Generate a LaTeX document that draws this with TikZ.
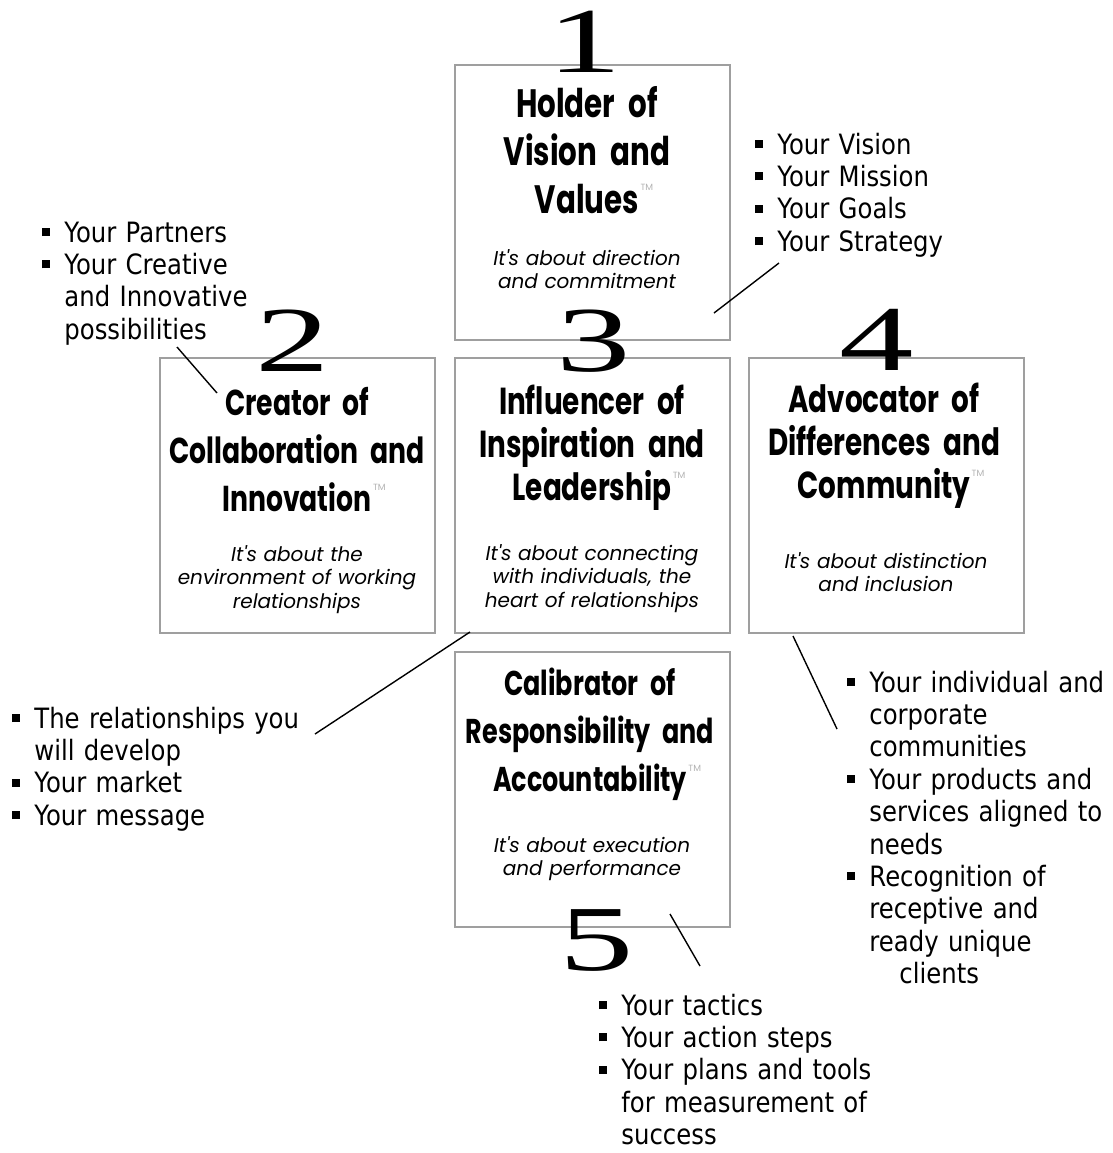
\documentclass[tikz,border=0pt]{standalone}
\usepackage{fontspec}
\newfontfamily\listfont[FakeStretch=0.87]{DejaVu Sans}
\newfontfamily\headfont[FakeStretch=0.74]{Poppins}
\newfontfamily\notefont{Poppins}
\newfontfamily\digitfont[FakeStretch=1.6]{Liberation Serif}

\newcommand{\itm}{\makebox[11pt][l]{\rule[3pt]{4pt}{4pt}}}
\newcommand{\cnt}{\hspace*{11pt}}
\newcommand{\tm}{\rlap{\raisebox{1.02ex}{\notefont\mdseries\fontsize{4.5pt}{4.5pt}\selectfont\color{gray!60}\,TM}}}

\tikzset{
  boxframe/.style={draw=gray!75, line width=1pt, minimum width=137.5pt, minimum height=137.5pt, inner sep=0pt},
  headtext/.style 2 args={font=\headfont\bfseries\fontsize{#1}{#2}\selectfont, text width=140pt, align=center, anchor=base, inner sep=0pt},
  notetext/.style={font=\notefont\itshape\fontsize{10pt}{11.8pt}\selectfont, text width=140pt, align=center, anchor=base, inner sep=0pt},
  digitmark/.style={font=\digitfont\fontsize{46.5pt}{46.5pt}\selectfont, anchor=base, inner sep=0pt},
  pointlist/.style={font=\listfont\fontsize{14pt}{16.2pt}\selectfont, text width=150pt, align=left, anchor=base west, inner sep=0pt},
  leaderline/.style={line width=0.7pt}
}

\begin{document}
\begin{tikzpicture}[x=0.5pt, y=-0.5pt]
  \useasboundingbox (0,0) rectangle (1113,1153);

  \node[boxframe] (b1) at (592.5,202.5) {};
  \node[boxframe] (b2) at (297,495)     {};
  \node[boxframe] (b3) at (592.5,495)   {};
  \node[boxframe] (b4) at (886,495)     {};
  \node[boxframe] (b5) at (592.5,789.5) {};

  \node[digitmark] (d1) at (585,72)  {1};
  \node[digitmark] (d2) at (293,371) {2};
  \node[digitmark] (d3) at (594,371) {3};
  \node[digitmark] (d4) at (877,370) {4};
  \node[digitmark] (d5) at (597,970) {5};

  \node[headtext={19.8pt}{24pt}]   (h1) at (587,117) {Holder of\\Vision and\\Values\tm};
  \node[headtext={18pt}{24pt}]     (h2) at (297,415) {Creator of\\Collaboration and\\Innovation\tm};
  \node[headtext={18.8pt}{21.5pt}] (h3) at (592,414) {Influencer of\\Inspiration and\\Leadership\tm};
  \node[headtext={18.8pt}{21.5pt}] (h4) at (884,412) {Advocator of\\Differences and\\Community\tm};
  \node[headtext={17.2pt}{24pt}]   (h5) at (590,695) {Calibrator of\\Responsibility and\\Accountability\tm};

  \node[notetext] (n1) at (587,265) {It's about direction\\and commitment};
  \node[notetext] (n2) at (297,561) {It's about the\\environment of working\\relationships};
  \node[notetext] (n3) at (592,560) {It's about connecting\\with individuals, the\\heart of relationships};
  \node[notetext] (n4) at (886,568) {It's about distinction\\and inclusion};
  \node[notetext] (n5) at (592,852) {It's about execution\\and performance};

  \node[pointlist] (vision) at (755,154) {\itm Your Vision\\\itm Your Mission\\\itm Your Goals\\\itm Your Strategy};
  \node[pointlist] (partners) at (42,242) {\itm Your Partners\\\itm Your Creative\\\cnt and Innovative\\\cnt possibilities};
  \node[pointlist] (relations) at (12,728) {\itm The relationships you\\\cnt will develop\\\itm Your market\\\itm Your message};
  \node[pointlist] (community) at (847,692) {\itm Your individual and\\\cnt corporate\\\cnt communities\\\itm Your products and\\\cnt services aligned to\\\cnt needs\\\itm Recognition of\\\cnt receptive and\\\cnt ready unique\\\cnt\hspace*{15pt}clients};
  \node[pointlist] (tactics) at (599,1015) {\itm Your tactics\\\itm Your action steps\\\itm Your plans and tools\\\cnt for measurement of\\\cnt success};

  \coordinate (s1) at (714,313); \coordinate (e1) at (779,263);
  \coordinate (s2) at (217,393); \coordinate (e2) at (177,347);
  \coordinate (s3) at (470,632); \coordinate (e3) at (315,734);
  \coordinate (s4) at (793,636); \coordinate (e4) at (837,729);
  \coordinate (s5) at (670,914); \coordinate (e5) at (700,966);

  \draw[leaderline] (s1) -- (e1);
  \draw[leaderline] (s2) -- (e2);
  \draw[leaderline] (s3) -- (e3);
  \draw[leaderline] (s4) -- (e4);
  \draw[leaderline] (s5) -- (e5);
\end{tikzpicture}
\end{document}
